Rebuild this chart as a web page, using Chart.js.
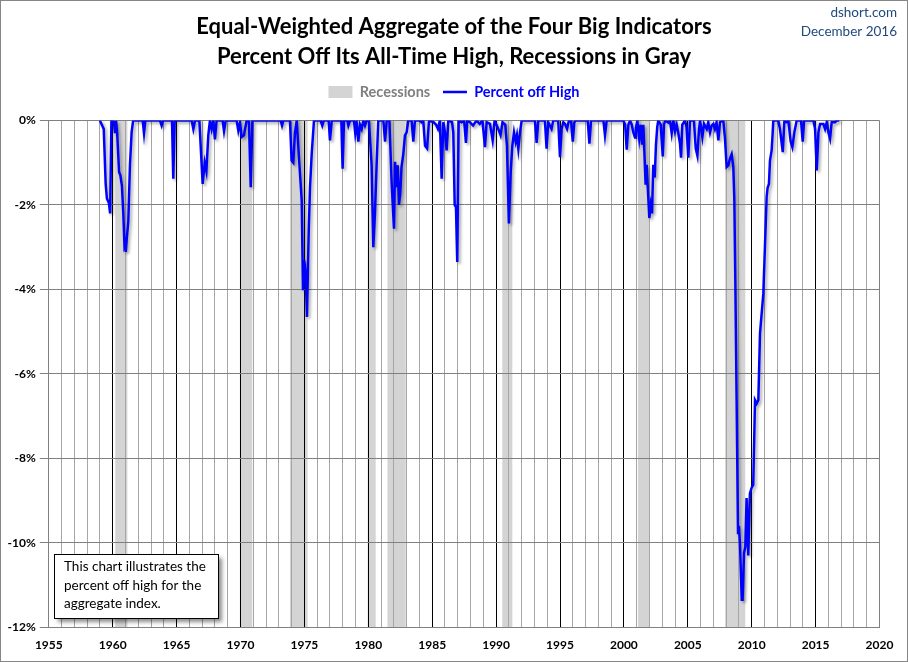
<!DOCTYPE html>
<html>
<head>
<meta charset="utf-8">
<title>Percent Off All-Time High</title>
<script src="https://cdn.jsdelivr.net/npm/chart.js@4.4.1/dist/chart.umd.min.js"></script>
<style>
    html, body { margin: 0; padding: 0; background: #fff; }
    #wrap { width: 908px; height: 662px; }
</style>
</head>
<body>
<div id="wrap"><canvas id="chart" width="908" height="662"></canvas></div>
<script>
// ── Data (decimal year, % off all-time high) ──
const years = [
    1959.00, 1959.30, 1959.45, 1959.55, 1959.70, 1959.80, 1959.90, 1960.00, 1960.10, 1960.18,
    1960.26, 1960.35, 1960.50, 1960.60, 1960.72, 1960.83, 1960.92, 1960.97, 1961.02, 1961.10,
    1961.22, 1961.35, 1961.48, 1961.60, 1962.35, 1962.45, 1962.55, 1963.70, 1963.83, 1963.95,
    1964.64, 1964.74, 1964.85, 1966.18, 1966.31, 1966.44, 1966.78, 1967.04, 1967.20, 1967.33,
    1967.48, 1967.61, 1967.74, 1967.87, 1968.00, 1968.13, 1968.60, 1968.71, 1968.84, 1969.70,
    1969.83, 1969.96, 1970.09, 1970.27, 1970.48, 1970.66, 1970.80, 1970.93, 1973.14, 1973.25,
    1973.35, 1973.87, 1974.00, 1974.13, 1974.26, 1974.40, 1974.60, 1974.79, 1974.89, 1974.99,
    1975.10, 1975.20, 1975.34, 1975.44, 1975.57, 1975.75, 1976.27, 1976.40, 1976.52, 1976.90,
    1977.00, 1977.14, 1977.89, 1977.99, 1978.10, 1978.36, 1978.44, 1978.57, 1978.88, 1978.98,
    1979.09, 1979.22, 1979.35, 1979.48, 1979.61, 1979.74, 1979.87, 1980.05, 1980.26, 1980.39,
    1980.52, 1980.65, 1980.78, 1981.18, 1981.31, 1981.44, 1981.65, 1981.83, 1982.01, 1982.09,
    1982.19, 1982.30, 1982.40, 1982.50, 1982.60, 1982.74, 1982.87, 1983.00, 1983.13, 1983.39,
    1983.52, 1983.65, 1984.04, 1984.17, 1984.30, 1984.44, 1984.60, 1984.75, 1985.10, 1985.30,
    1985.45, 1985.60, 1985.74, 1985.87, 1986.00, 1986.13, 1986.26, 1986.55, 1986.65, 1986.76,
    1986.86, 1986.96, 1987.07, 1987.30, 1987.50, 1987.64, 1987.74, 1987.95, 1988.20, 1988.46,
    1988.72, 1988.93, 1989.13, 1989.26, 1989.52, 1989.73, 1989.88, 1990.17, 1990.35, 1990.50,
    1990.72, 1990.85, 1991.00, 1991.14, 1991.27, 1991.40, 1991.53, 1991.63, 1991.74, 1991.87,
    1992.00, 1993.04, 1993.17, 1993.30, 1993.82, 1993.95, 1994.08, 1994.34, 1994.47, 1994.86,
    1995.00, 1995.13, 1995.26, 1995.39, 1995.55, 1995.70, 1995.86, 1996.00, 1996.12, 1996.25,
    1997.17, 1997.30, 1997.43, 1998.40, 1998.52, 1998.65, 1999.95, 2000.10, 2000.22, 2000.35,
    2000.48, 2000.61, 2000.74, 2000.87, 2000.94, 2001.05, 2001.20, 2001.31, 2001.42, 2001.52,
    2001.70, 2001.78, 2001.99, 2002.10, 2002.20, 2002.30, 2002.41, 2002.51, 2002.61, 2002.69,
    2002.88, 2003.04, 2003.14, 2003.22, 2003.48, 2003.61, 2003.74, 2003.87, 2004.00, 2004.13,
    2004.26, 2004.39, 2004.47, 2004.57, 2004.78, 2004.90, 2005.04, 2005.17, 2005.48, 2005.62,
    2005.75, 2005.88, 2005.96, 2006.14, 2006.27, 2006.48, 2006.60, 2006.74, 2006.87, 2007.00,
    2007.12, 2007.25, 2007.39, 2007.52, 2007.78, 2007.91, 2008.04, 2008.17, 2008.30, 2008.43,
    2008.56, 2008.64, 2008.72, 2008.82, 2008.93, 2009.00, 2009.08, 2009.22, 2009.29, 2009.40,
    2009.50, 2009.60, 2009.73, 2009.86, 2009.99, 2010.12, 2010.26, 2010.39, 2010.52, 2010.65,
    2010.91, 2011.17, 2011.24, 2011.35, 2011.43, 2011.56, 2011.64, 2011.69, 2012.08, 2012.21,
    2012.43, 2012.56, 2012.74, 2012.87, 2013.05, 2013.18, 2013.34, 2013.52, 2013.86, 2013.99,
    2014.10, 2014.83, 2014.96, 2015.09, 2015.22, 2015.35, 2015.61, 2015.74, 2015.87, 2016.00,
    2016.13, 2016.26, 2016.52, 2016.65, 2016.85
];
const pctOffHigh = [
    0, -0.2, -1.5, -1.85, -1.95, -2.2, 0, 0, -0.05, -0.3,
    0, -0.3, -1.22, -1.3, -1.54, -2.2, -2.95, -2.9, -3.11, -2.8,
    -2.4, -1.06, -0.28, 0, 0, -0.3, 0, 0, -0.12, 0,
    0, -1.38, 0, 0, -0.2, 0, 0, -1.5, -1.0, -1.2,
    -0.35, 0, -0.2, 0, -0.45, 0, 0, -0.25, 0, 0,
    -0.24, -0.05, -0.39, -0.35, 0, 0, -1.58, 0, 0, -0.12,
    0, 0, -0.95, -1.0, -0.3, 0, -1.0, -1.89, -4.02, -3.31,
    -3.62, -4.65, -2.6, -1.58, -0.8, 0, 0, -0.12, 0, 0,
    -0.47, 0, 0, -1.14, 0, 0, -0.12, 0, 0, -0.3,
    -0.05, -0.5, -0.1, -0.2, 0, -0.12, 0, 0, -1.06, -3.0,
    -2.2, -1.06, 0, 0, -0.5, 0, 0, -1.5, -2.56, -0.98,
    -1.58, -1.06, -2.0, -1.73, -1.1, -0.79, -0.35, -0.28, 0, 0,
    -0.5, 0, 0, -0.04, 0, -0.6, -0.66, 0, -0.04, -0.1,
    -0.2, 0, -1.38, -0.04, -0.28, -0.71, 0, -0.04, -0.28, -2.0,
    -2.05, -3.35, 0, -0.04, 0, -0.53, 0, -0.04, -0.12, 0,
    -0.08, 0, -0.63, -0.04, -0.08, -0.47, 0, -0.2, -0.35, -0.04,
    -0.1, -0.6, -2.44, -1.24, -0.6, -0.28, -0.5, -0.35, -0.67, -0.28,
    0, 0, -0.53, 0, 0, -0.67, -0.04, -0.2, 0, 0,
    -0.87, -0.2, -0.04, -0.08, -0.2, 0, 0, -0.5, -0.04, 0,
    0, -0.55, 0, 0, -0.35, 0, 0, -0.1, -0.69, -0.1,
    0, -0.1, -0.28, -0.4, -0.18, 0, -0.42, -0.1, -0.57, -0.1,
    -1.52, -1.05, -2.31, -2.0, -2.2, -1.05, -1.35, -0.57, -0.15, 0,
    -0.1, -0.85, -0.1, 0, -0.05, 0, -0.3, 0, -0.25, -0.1,
    -0.3, -0.55, -0.88, -0.1, 0, -0.15, -0.88, 0, 0, -0.66,
    -0.83, -0.2, 0, -0.39, -0.08, -0.2, -0.04, -0.28, -0.12, -0.08,
    -0.2, -0.04, -0.47, -0.04, 0, -0.43, -1.1, -1.06, -0.9, -0.8,
    -1.1, -1.85, -3.8, -6.6, -9.77, -9.6, -10.0, -11.35, -11.35, -10.24,
    -10.1, -8.94, -10.3, -8.83, -8.7, -8.63, -6.62, -6.7, -6.62, -5.04,
    -4.1, -1.81, -1.6, -1.5, -0.95, -0.71, -0.3, 0, 0, -0.2,
    -0.75, 0, -0.04, 0, -0.5, -0.63, -0.28, 0, 0, -0.5,
    0, 0, -0.2, -1.18, -0.28, -0.08, -0.08, -0.2, -0.04, -0.28,
    -0.43, -0.04, -0.04, 0, 0
];

// ── Recessions (gray bands) ──
const recessionStart = [1960.20, 1969.95, 1973.87, 1979.95, 1981.50, 1990.48, 2001.10, 2007.92];
const recessionEnd   = [1961.15, 1970.92, 1975.25, 1980.58, 1982.93, 1991.27, 2001.97, 2009.50];

// ── Axis ticks and texts ──
const xLabelYears = [1955, 1960, 1965, 1970, 1975, 1980, 1985, 1990, 1995, 2000, 2005, 2010, 2015, 2020];
const yTickValues = [0, -2, -4, -6, -8, -10, -12];
const titleLines = [
    'Equal-Weighted Aggregate of the Four Big Indicators',
    'Percent Off Its All-Time High, Recessions in Gray'
];
const sourceLines = ['dshort.com', 'December 2016'];
const noteLines = ['This chart illustrates the', 'percent off high for the', 'aggregate index.'];

const seriesPoints = years.map((yr, i) => ({ x: yr, y: pctOffHigh[i] }));

// ── White background + recession bands under the grid ──
const recessionBands = {
    id: 'recessionBands',
    beforeDraw(chart) {
        const { ctx, chartArea, scales: { x } } = chart;
        ctx.save();
        ctx.fillStyle = '#fff';
        ctx.fillRect(0, 0, chart.width, chart.height);
        ctx.fillStyle = '#d4d4d4';
        recessionStart.forEach((s, i) => {
            const x0 = x.getPixelForValue(s);
            const x1 = x.getPixelForValue(recessionEnd[i]);
            ctx.fillRect(x0, chartArea.top, x1 - x0, chartArea.bottom - chartArea.top);
        });
        ctx.restore();
    }
};

// ── Soft shadow under the blue line ──
const lineShadow = {
    id: 'lineShadow',
    beforeDatasetDraw(chart) {
        const c = chart.ctx;
        c.save();
        c.shadowColor = 'rgba(0,0,0,0.35)';
        c.shadowBlur = 3;
        c.shadowOffsetX = 2;
        c.shadowOffsetY = 2;
    },
    afterDatasetDraw(chart) {
        chart.ctx.restore();
    }
};

// ── Extra room between legend and plot ──
const legendSpacer = {
    id: 'legendSpacer',
    beforeInit(chart) {
        const fit = chart.legend.fit;
        chart.legend.fit = function () {
            fit.bind(chart.legend)();
            this.height += 11.25;
        };
    }
};

// ── Source text, note box, outer frame ──
const annotations = {
    id: 'annotations',
    afterDraw(chart) {
        const ctx = chart.ctx;
        ctx.save();

        ctx.fillStyle = '#1f497d';
        ctx.font = "13.5px 'Lato', sans-serif";
        ctx.textAlign = 'right';
        ctx.textBaseline = 'middle';
        ctx.fillText(sourceLines[0], 897, 13);
        ctx.fillText(sourceLines[1], 897, 32);

        // note box
        ctx.shadowColor = 'rgba(0,0,0,0.45)';
        ctx.shadowBlur = 4;
        ctx.shadowOffsetX = 3;
        ctx.shadowOffsetY = 3;
        ctx.fillStyle = '#fff';
        ctx.fillRect(54.5, 554.5, 164, 64);
        ctx.shadowColor = 'transparent';
        ctx.strokeStyle = '#000';
        ctx.lineWidth = 1;
        ctx.strokeRect(54.5, 554.5, 164, 64);
        ctx.fillStyle = '#000';
        ctx.font = "13.5px 'Lato', sans-serif";
        ctx.textAlign = 'left';
        noteLines.forEach((t, i) => ctx.fillText(t, 64, 567 + i * 18.5));

        ctx.strokeStyle = '#868686';
        ctx.strokeRect(0.5, 0.5, chart.width - 1, chart.height - 1);
        ctx.restore();
    }
};

new Chart(document.getElementById('chart'), {
    type: 'line',
    data: {
        datasets: [{
            label: 'Percent off High',
            data: seriesPoints,
            borderColor: '#0000ff',
            borderWidth: 2.5,
            pointRadius: 0,
            tension: 0,
            fill: false
        }]
    },
    options: {
        responsive: false,
        animation: false,
        layout: { padding: 0 },
        plugins: {
            title: {
                display: true,
                text: titleLines,
                color: '#000',
                font: { family: "'Lato', sans-serif", size: 22, weight: 'bold', lineHeight: 30 / 22 },
                padding: { top: 12, bottom: 0 }
            },
            legend: {
                display: true,
                position: 'top',
                labels: {
                    usePointStyle: true,
                    pointStyleWidth: 24,
                    boxHeight: 12,
                    padding: 12.75,
                    font: { family: "'Lato', sans-serif", size: 14.5, weight: 'bold' },
                    generateLabels: () => [
                        { text: 'Recessions', fillStyle: '#d4d4d4', strokeStyle: '#d4d4d4', lineWidth: 0,
                          pointStyle: 'rect', fontColor: '#808080', hidden: false },
                        { text: 'Percent off High', fillStyle: '#0000ff', strokeStyle: '#0000ff', lineWidth: 2.5,
                          pointStyle: 'line', fontColor: '#0000ff', hidden: false, datasetIndex: 0 }
                    ]
                }
            },
            tooltip: { enabled: false }
        },
        scales: {
            x: {
                type: 'linear',
                min: 1955,
                max: 2020,
                afterFit: scale => { scale.height = 34.7; },
                ticks: {
                    stepSize: 1,
                    autoSkip: false,
                    maxTicksLimit: 100,
                    maxRotation: 0,
                    padding: 11,
                    color: '#000',
                    font: { family: "'Lato', sans-serif", size: 12, weight: 'bold' },
                    callback: v => xLabelYears.includes(Math.round(v)) ? String(Math.round(v)) : ''
                },
                grid: {
                    drawTicks: false,
                    lineWidth: 1,
                    color: c => {
                        const v = Math.round(c.tick.value);
                        if (v === 1955 || v === 2020) return '#808080';
                        return v % 5 === 0 ? '#000' : '#a6a6a6';
                    }
                },
                border: { color: '#808080' }
            },
            y: {
                min: -12,
                max: 0,
                afterFit: scale => { scale.width = 48.8; },
                afterBuildTicks: scale => { scale.ticks = yTickValues.map(v => ({ value: v })); },
                ticks: {
                    padding: 4,
                    color: '#000',
                    font: { family: "'Lato', sans-serif", size: 12, weight: 'bold' },
                    callback: v => (v === 0 ? '0' : v) + '%'
                },
                grid: { color: '#808080', tickLength: 9 },
                border: { color: '#808080' }
            },
            // empty right-hand margin so title and legend centre on the full width
            yRight: {
                position: 'right',
                min: -12,
                max: 0,
                afterFit: scale => { scale.width = 28.5; },
                ticks: { display: false },
                grid: { display: false },
                border: { display: false }
            }
        }
    },
    plugins: [recessionBands, lineShadow, legendSpacer, annotations]
});
</script>
</body>
</html>
